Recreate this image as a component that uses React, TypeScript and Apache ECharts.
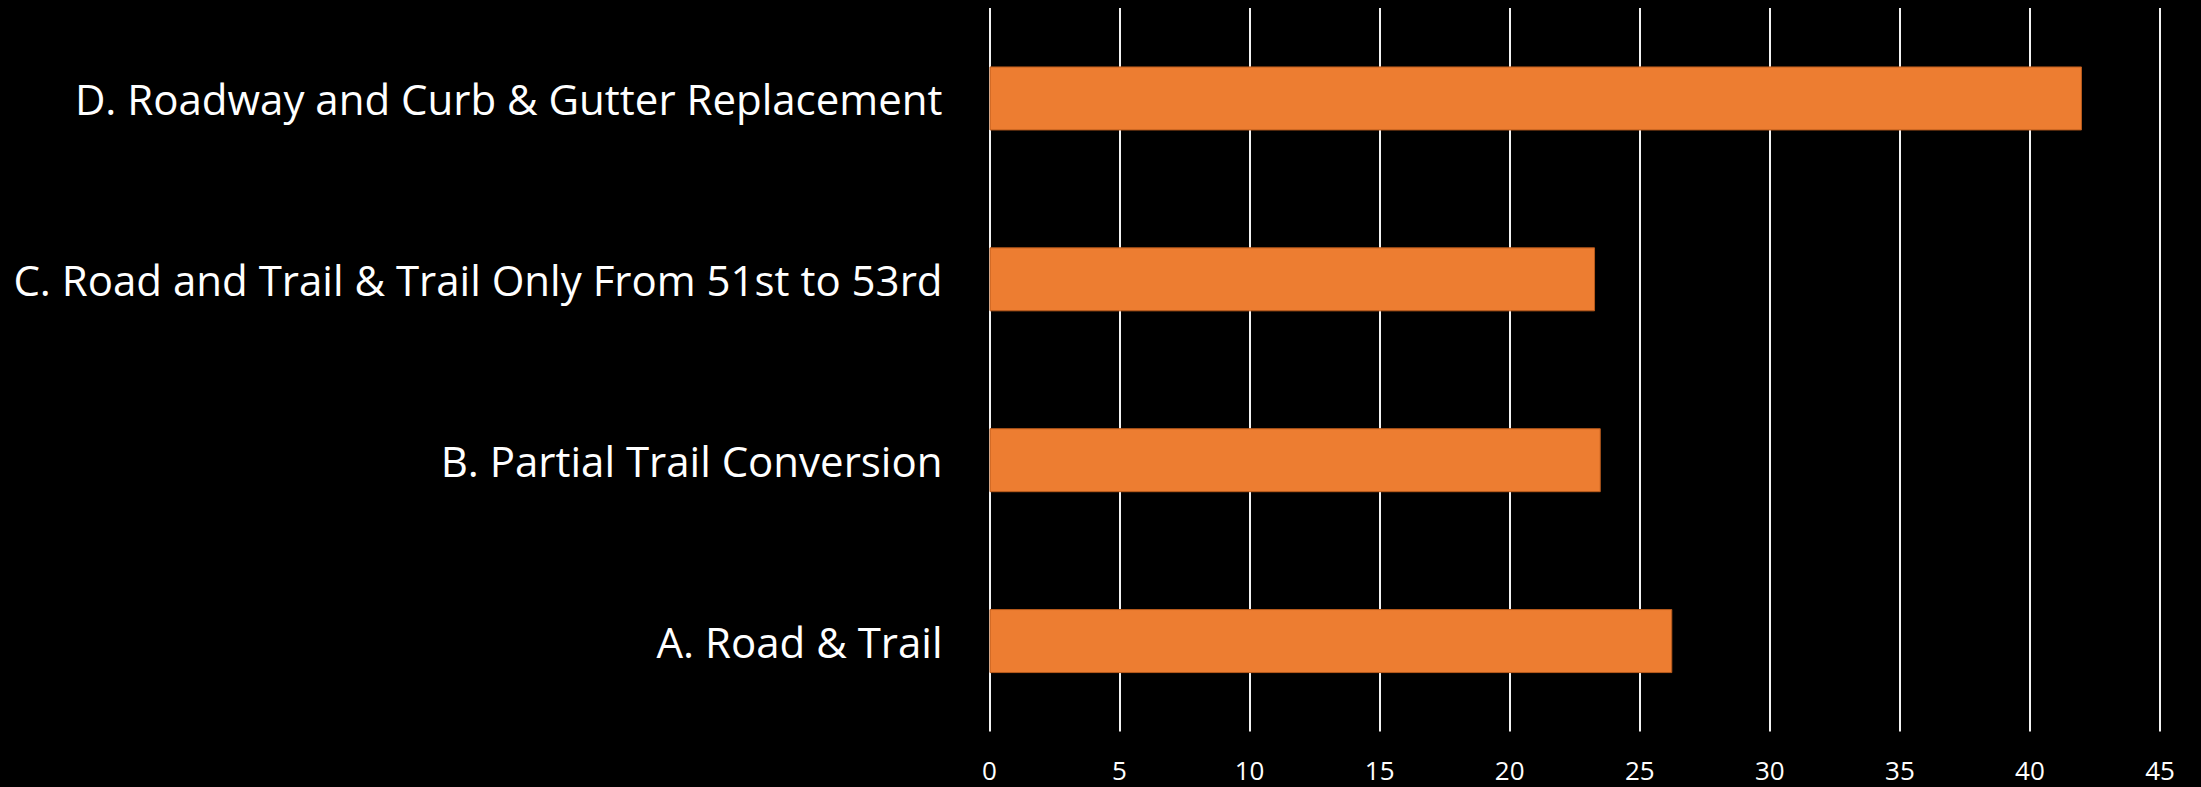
import React, { useEffect, useRef } from "react";
import * as echarts from "echarts";

const categories = [
  "A. Road & Trail",
  "B. Partial Trail Conversion",
  "C. Road and Trail & Trail Only From 51st to 53rd",
  "D. Roadway and Curb & Gutter Replacement",
];
const values = [26.25, 23.5, 23.28, 42];
const axisMin = 0;
const axisMax = 45;
const axisStep = 5;

export default function App() {
  const ref = useRef<HTMLDivElement>(null);
  useEffect(() => {
    document.body.style.margin = "0";
    document.body.style.background = "#000";
    const chart = echarts.init(ref.current!, null, { renderer: "svg" });
    chart.setOption({
      animation: false,
      backgroundColor: "#000000",
      grid: { left: 989.5, right: 41, top: 8, bottom: 55.5, containLabel: false },
      xAxis: {
        type: "value",
        min: axisMin,
        max: axisMax,
        interval: axisStep,
        axisLine: { show: false },
        axisTick: { show: false },
        splitLine: { show: true, lineStyle: { color: "#f2f2f2", width: 2 } },
        axisLabel: {
          color: "#ffffff",
          fontFamily: "Open Sans",
          fontSize: 26,
          lineHeight: 26,
          margin: 25,
        },
      },
      yAxis: {
        type: "category",
        data: categories,
        axisLine: { show: false },
        axisTick: { show: false },
        splitLine: { show: false },
        axisLabel: {
          color: "#ffffff",
          fontFamily: "Open Sans",
          fontSize: 42,
          margin: 47,
        },
      },
      series: [
        {
          type: "bar",
          data: values,
          barWidth: 64,
          itemStyle: { color: "#ED7D31", borderColor: "#b85a1c", borderWidth: 1 },
        },
      ],
    });
    return () => chart.dispose();
  }, []);
  return <div ref={ref} style={{ width: 2201, height: 787, background: "#000" }} />;
}
